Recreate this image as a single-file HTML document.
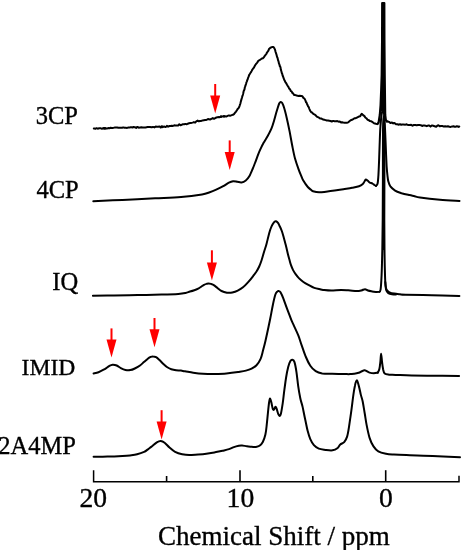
<!DOCTYPE html>
<html><head><meta charset="utf-8"><style>
html,body{margin:0;padding:0;background:#fff;}
body{width:461px;height:550px;overflow:hidden;position:relative;}
svg{position:absolute;left:0;top:0;will-change:transform;}
.t{font-family:"Liberation Serif",serif;fill:#000;stroke:#000;stroke-width:0.35px;}
</style></head><body>
<svg width="461" height="550" viewBox="0 0 461 550">
<g fill="none" stroke="#000" stroke-width="2" stroke-linejoin="round" stroke-linecap="round">
<path d="M93.8,128.5 L94.5,128.5 L95.4,128.8 L96.5,128.2 L97.7,128.7 L99.1,128.3 L100.5,128.2 L101.9,128.8 L103.3,128.3 L104.7,128.2 L105.8,128.4 L107.0,128.5 L108.2,128.1 L109.4,128.3 L110.7,127.8 L111.9,127.9 L113.2,127.9 L114.5,127.6 L115.8,127.5 L117.1,127.5 L118.4,127.8 L119.6,127.8 L120.8,127.8 L122.1,127.8 L123.3,127.4 L124.6,127.8 L125.8,127.8 L127.1,127.9 L128.4,127.5 L129.7,127.6 L131.0,127.1 L132.3,127.5 L133.6,127.0 L134.8,127.2 L136.1,127.9 L137.4,126.9 L138.7,127.7 L140.0,127.5 L141.4,127.3 L142.7,127.5 L144.0,127.5 L145.3,127.6 L146.5,127.2 L147.7,127.1 L148.9,127.1 L150.0,126.9 L151.5,127.2 L153.0,126.9 L154.4,127.4 L155.7,126.6 L157.0,126.7 L158.3,126.8 L159.5,126.4 L160.6,127.5 L161.7,126.2 L163.2,126.7 L164.5,126.6 L165.7,127.1 L166.9,125.9 L168.1,126.7 L169.5,126.0 L170.6,126.0 L171.8,125.7 L173.0,125.9 L174.3,125.3 L175.5,125.4 L176.8,125.4 L178.1,125.6 L179.3,124.2 L180.5,125.2 L181.7,124.8 L182.9,124.2 L184.2,124.3 L185.4,123.9 L186.6,124.3 L187.8,123.7 L189.0,123.3 L190.2,123.1 L191.4,122.9 L192.7,122.6 L193.9,122.1 L195.1,122.7 L196.3,121.3 L197.6,120.6 L198.8,121.3 L200.0,121.0 L201.3,120.9 L202.6,120.4 L203.8,120.2 L205.1,120.0 L206.3,120.0 L207.5,119.3 L208.6,119.1 L210.0,119.5 L211.4,118.8 L212.8,118.1 L214.0,118.8 L215.2,118.1 L216.4,117.5 L217.9,117.1 L219.3,117.3 L220.7,116.8 L222.2,116.5 L223.4,116.3 L224.8,116.3 L226.2,116.6 L227.6,115.9 L228.9,115.4 L230.0,115.8 L231.7,115.1 L232.9,114.8 L234.0,114.1 L235.1,112.7 L236.0,111.6 L236.9,110.3 L237.6,109.0 L238.3,108.4 L239.0,107.4 L239.6,105.8 L240.0,104.6 L240.4,103.5 L240.7,102.1 L241.0,100.9 L241.3,99.9 L241.7,98.5 L242.0,97.5 L242.4,96.0 L242.8,95.1 L243.1,94.0 L243.4,92.5 L243.7,91.0 L244.1,90.3 L244.5,89.4 L244.8,87.5 L245.2,86.4 L245.6,85.1 L246.0,84.1 L246.4,82.4 L246.8,81.6 L247.3,80.0 L247.7,79.2 L248.1,77.8 L248.7,76.4 L249.2,74.9 L249.8,74.0 L250.4,73.0 L251.0,72.2 L251.7,70.9 L252.4,69.5 L253.1,68.6 L253.9,67.6 L254.6,66.2 L255.3,65.0 L256.1,63.9 L256.8,63.1 L257.6,62.1 L258.3,60.8 L259.5,60.2 L260.8,59.3 L261.9,58.5 L262.9,58.2 L263.9,57.3 L264.8,55.8 L265.5,55.0 L266.3,54.0 L267.0,52.5 L267.7,51.6 L268.4,50.7 L269.1,48.8 L269.8,48.4 L270.4,47.7 L272.5,46.9 L273.5,46.9 L274.5,48.6 L274.9,49.2 L275.3,50.7 L275.6,52.0 L276.0,53.2 L276.4,54.3 L276.7,55.5 L277.1,57.1 L277.5,57.8 L277.9,59.5 L278.2,60.7 L278.6,61.7 L279.0,63.7 L279.4,64.3 L279.8,66.2 L280.1,66.3 L280.5,67.4 L280.8,69.4 L281.2,70.7 L281.5,71.7 L281.8,73.0 L282.2,73.8 L282.6,75.5 L283.1,76.7 L283.7,78.3 L284.3,80.0 L284.9,81.0 L285.5,82.3 L286.2,83.2 L286.9,84.5 L287.6,85.7 L288.4,86.9 L289.2,88.6 L290.0,89.2 L290.8,91.1 L291.6,91.4 L292.4,93.0 L293.2,93.4 L294.1,94.9 L295.3,95.1 L296.6,95.5 L297.9,95.9 L299.7,95.8 L301.4,96.0 L302.4,96.3 L303.4,97.9 L304.4,98.5 L304.9,99.4 L305.5,100.6 L306.0,102.3 L306.5,102.5 L307.1,104.3 L307.6,105.1 L308.1,106.5 L308.7,107.0 L309.2,108.5 L309.8,110.0 L310.4,111.1 L311.2,112.2 L312.0,112.4 L312.9,113.5 L313.8,114.2 L314.7,114.6 L315.7,115.3 L316.8,116.7 L317.9,117.2 L319.0,117.7 L320.1,118.6 L321.5,118.6 L322.9,119.5 L324.3,119.8 L325.6,120.1 L326.8,120.5 L328.0,120.6 L329.2,120.8 L330.5,121.0 L331.8,121.5 L333.1,120.9 L334.6,121.3 L336.0,121.2 L337.3,121.1 L338.6,121.7 L339.8,121.5 L341.0,122.4 L342.1,122.2 L343.2,122.5 L344.5,122.7 L345.8,122.8 L347.0,122.7 L348.1,122.4 L349.4,121.3 L350.7,120.2 L352.0,119.8 L353.2,119.1 L354.5,118.2 L355.8,118.2 L356.9,117.6 L358.8,116.6 L360.2,116.3 L361.0,114.6 L361.7,113.8 L363.5,115.5 L364.3,115.9 L365.3,117.5 L366.3,118.2 L367.5,119.7 L368.7,120.1 L370.0,121.1 L371.3,121.3 L372.7,122.2 L374.0,123.2 L375.9,123.7 L377.4,124.0" stroke-width="2.0"/>
<path d="M387.0,121.5 L387.8,121.4 L389.0,121.9 L390.4,123.0 L392.0,122.5 L393.2,123.4 L394.5,122.9 L396.0,124.2 L397.4,124.2 L398.8,124.7 L400.0,124.2 L401.3,124.7 L402.2,124.5 L403.4,124.4 L405.4,124.7 L406.3,124.3 L407.4,124.7 L408.5,125.0 L409.8,124.9 L411.1,124.8 L412.5,125.7 L413.9,125.0 L415.3,124.9 L416.7,125.2 L418.1,125.0 L419.5,125.1 L420.8,125.2 L422.1,126.0 L423.3,125.4 L424.5,125.5 L425.6,125.7 L426.8,126.2 L428.0,125.6 L429.2,125.5 L430.5,126.6 L431.8,125.4 L433.2,125.8 L434.6,126.2 L436.2,126.7 L437.3,125.7 L438.4,125.3 L439.7,126.3 L441.0,126.0 L442.3,126.1 L443.7,126.4 L445.1,126.3 L446.6,126.4 L448.0,126.2 L449.4,126.8 L450.8,126.9 L452.2,126.4 L453.5,126.3 L454.7,126.7 L455.8,126.7 L456.9,126.2 L457.8,126.4 L458.6,126.9 L459.3,126.6" stroke-width="2.0"/>
<ellipse cx="104.5" cy="128.3" rx="2.0" ry="1.4" fill="#000" stroke="none"/>
<ellipse cx="162" cy="127.1" rx="1.6" ry="1.2" fill="#000" stroke="none"/>
<ellipse cx="221" cy="116.7" rx="1.0" ry="1.4" fill="#000" stroke="none"/>
<ellipse cx="224" cy="116.4" rx="1.0" ry="1.4" fill="#000" stroke="none"/>
<path d="M377.4,124.0 L378.6,122.5 L379.8,115.0 L380.6,105.0 L381.2,90.0 L381.7,75.0 L382.1,40.0 L382.2,3.0 L384.3,3.0 L384.4,40.0 L384.7,75.0 L385.0,100.0 L385.2,115.0 L385.8,120.0 L387.0,121.5" stroke-width="2.2"/>
<path d="M382.2,3 L382.1,40 L381.7,75 L381.2,90 L380.6,105 L380.3,111 L385.1,111 L385.0,100 L384.7,75 L384.4,40 L384.3,3 Z" fill="#000" stroke="none"/>
<path d="M93.3,201.2 C98.2,201.0 112.2,200.4 122.5,199.9 C132.8,199.4 145.3,198.8 155.1,198.3 C164.9,197.8 173.3,197.6 181.1,196.9 C188.9,196.2 197.3,195.1 202.0,194.4 C206.7,193.7 206.7,193.3 209.1,192.5 C211.5,191.7 213.8,190.8 216.2,189.7 C218.5,188.6 221.1,187.4 223.2,186.2 C225.3,185.0 227.2,183.5 228.9,182.7 C230.6,181.9 231.7,181.5 233.1,181.3 C234.5,181.2 235.9,181.6 237.3,181.8 C238.7,182.0 240.1,182.6 241.5,182.4 C242.9,182.2 244.5,181.5 245.8,180.5 C247.1,179.5 248.1,178.3 249.3,176.3 C250.5,174.3 251.9,170.7 252.8,168.5 C253.8,166.3 254.0,165.5 255.0,163.0 C256.0,160.5 257.5,156.0 258.6,153.3 C259.7,150.6 260.7,148.6 261.5,146.8 C262.3,145.1 262.6,144.6 263.6,142.8 C264.6,141.0 266.4,138.3 267.7,136.0 C269.0,133.7 270.3,131.3 271.4,128.7 C272.5,126.1 273.2,123.5 274.1,120.5 C275.0,117.5 276.0,113.3 276.9,110.5 C277.8,107.7 278.6,104.9 279.2,103.5 C279.8,102.1 280.2,102.0 280.7,101.9 C281.2,101.8 281.6,102.0 282.2,103.0 C282.8,104.0 283.3,105.2 284.1,107.8 C284.9,110.4 286.0,114.8 286.9,118.7 C287.8,122.6 288.7,126.9 289.6,131.4 C290.5,136.0 291.4,141.4 292.3,146.0 C293.2,150.6 294.0,154.9 295.1,158.8 C296.2,162.8 297.7,166.9 298.7,169.7 C299.7,172.5 300.2,173.6 301.0,175.4 C301.8,177.2 302.2,178.7 303.3,180.6 C304.4,182.5 306.5,185.5 307.8,187.0 C309.1,188.5 310.1,189.1 311.0,189.8 C311.9,190.5 311.6,190.8 313.0,191.2 C314.4,191.6 316.9,192.2 319.1,192.3 C321.3,192.4 323.4,192.0 326.0,191.7 C328.6,191.4 331.8,191.0 334.7,190.6 C337.6,190.2 340.5,189.8 343.4,189.3 C346.3,188.8 349.5,188.3 352.1,187.8 C354.7,187.3 357.3,186.9 359.0,186.3 C360.7,185.7 361.6,185.1 362.5,184.3 C363.4,183.5 363.9,182.3 364.5,181.5 C365.1,180.7 365.2,179.5 365.8,179.4 C366.4,179.3 367.1,180.3 367.8,180.8 C368.5,181.3 369.0,182.2 369.8,182.6 C370.6,183.0 371.6,183.1 372.4,183.5 C373.1,183.9 373.7,184.6 374.3,185.0 C374.9,185.4 375.7,185.8 376.0,185.9"/>
<path d="M376.0,185.9 C376.3,185.5 377.2,185.1 377.6,183.4 C378.0,181.7 378.1,179.5 378.4,175.6 C378.6,171.7 378.9,165.9 379.1,160.0 C379.3,154.1 379.6,145.5 379.8,140.0 C380.0,134.5 380.1,131.0 380.4,127.0 C380.7,123.0 381.0,118.8 381.4,116.0 C381.8,113.2 382.2,110.9 382.6,110.0 C383.0,109.1 383.3,109.0 383.6,110.5 C383.9,112.0 384.2,115.2 384.5,119.0 C384.8,122.8 385.0,127.8 385.2,133.0 C385.4,138.2 385.7,144.5 385.9,150.0 C386.1,155.5 386.4,161.8 386.6,166.0 C386.9,170.2 387.1,172.4 387.4,175.0 C387.7,177.6 387.8,179.4 388.3,181.3 C388.8,183.2 389.5,185.1 390.6,186.7 C391.7,188.2 393.3,189.5 395.1,190.6 C396.9,191.7 399.2,192.4 401.6,193.2 C404.0,193.9 407.3,194.6 409.5,195.1 C411.7,195.6 412.9,195.8 414.7,196.2 C416.4,196.6 415.8,196.9 420.0,197.5 C424.2,198.1 433.4,199.2 440.0,199.8 C446.6,200.4 456.2,200.8 459.5,201.0"/>
<path d="M92.9,295.8 C96.4,295.8 106.4,295.6 113.9,295.5 C121.4,295.4 129.8,295.2 137.7,295.1 C145.6,295.0 154.8,294.8 161.6,294.6 C168.4,294.4 174.3,294.2 178.3,293.9 C182.3,293.6 183.6,293.3 185.5,292.9 C187.4,292.5 188.5,291.9 190.0,291.5 C191.5,291.1 192.9,290.7 194.3,290.2 C195.8,289.7 197.5,288.9 198.7,288.3 C199.9,287.7 200.6,287.1 201.5,286.5 C202.4,285.9 203.2,285.3 204.0,284.9 C204.8,284.5 205.7,284.1 206.5,283.9 C207.3,283.7 207.9,283.5 208.7,283.5 C209.4,283.5 210.2,283.7 211.0,283.9 C211.8,284.1 212.3,284.2 213.4,284.9 C214.5,285.6 216.2,287.0 217.5,288.0 C218.8,289.0 219.9,290.2 221.5,291.0 C223.1,291.8 225.1,292.4 226.9,292.7 C228.7,292.9 230.5,292.9 232.3,292.5 C234.1,292.1 235.9,291.5 237.7,290.6 C239.5,289.7 241.2,288.8 243.0,287.3 C244.8,285.9 246.6,283.9 248.4,281.9 C250.2,279.9 252.4,277.0 253.8,275.2 C255.2,273.4 255.9,272.4 256.8,271.0 C257.7,269.6 258.4,268.2 259.2,266.5 C260.0,264.8 260.7,262.9 261.5,260.5 C262.3,258.1 263.2,254.8 264.0,252.0 C264.8,249.2 265.7,247.0 266.5,244.0 C267.3,241.0 268.3,236.5 269.0,234.0 C269.7,231.5 269.9,230.6 270.5,229.0 C271.1,227.4 271.8,225.7 272.5,224.5 C273.2,223.3 273.9,222.3 274.5,221.8 C275.1,221.3 275.4,221.1 276.0,221.3 C276.6,221.5 277.3,221.9 278.0,222.8 C278.7,223.7 279.3,225.4 280.0,226.8 C280.7,228.2 281.3,229.6 282.0,231.5 C282.7,233.4 283.3,236.1 284.0,238.5 C284.7,240.9 285.3,243.3 286.0,246.0 C286.7,248.7 287.4,252.2 288.0,254.5 C288.6,256.8 289.0,258.2 289.5,260.0 C290.0,261.8 290.4,263.5 291.0,265.2 C291.6,266.9 292.3,268.6 293.1,270.1 C293.9,271.6 294.8,273.0 295.8,274.4 C296.8,275.8 297.8,277.1 299.1,278.4 C300.4,279.7 301.8,280.9 303.4,282.0 C305.0,283.1 307.1,284.2 308.9,285.2 C310.7,286.2 312.3,287.2 314.3,287.9 C316.3,288.6 319.2,289.1 320.8,289.5 C322.4,289.9 322.4,289.8 324.2,290.0 C325.9,290.2 328.5,290.5 331.3,290.5 C334.1,290.5 338.4,290.1 341.2,290.1 C344.0,290.1 345.6,290.2 348.2,290.3 C350.8,290.4 354.5,291.0 356.7,291.0 C358.9,291.0 360.1,290.7 361.5,290.4 C362.9,290.1 363.9,289.2 365.0,289.2 C366.1,289.2 366.8,290.1 368.0,290.5 C369.2,290.9 370.8,291.2 372.2,291.5 C373.6,291.8 375.2,291.9 376.4,292.0 C377.6,292.1 378.9,291.8 379.4,291.8"/>
<path d="M379.4,291.8 C379.6,291.4 380.2,292.2 380.6,289.4 C381.0,286.6 381.3,281.6 381.6,275.0 C381.9,268.4 382.1,259.2 382.3,250.0 C382.5,240.8 382.6,231.7 382.7,220.0 C382.8,208.3 382.8,195.0 382.9,180.0 C382.9,165.0 382.9,140.7 383.0,130.0 C383.1,119.3 383.4,116.0 383.6,116.0 C383.8,116.0 384.2,119.3 384.3,130.0 C384.4,140.7 384.4,165.0 384.4,180.0 C384.4,195.0 384.3,208.3 384.3,220.0 C384.3,231.7 384.4,240.8 384.5,250.0 C384.6,259.2 384.8,269.0 385.0,275.0 C385.2,281.0 385.3,283.4 385.6,286.0 C385.9,288.6 386.4,289.2 387.0,290.3 C387.6,291.4 388.3,291.8 389.5,292.3 C390.7,292.9 392.4,293.3 394.2,293.6 C395.9,293.9 398.1,294.1 400.0,294.3 C401.9,294.5 400.3,294.5 405.6,294.7 C410.9,294.9 422.9,295.1 431.9,295.3 C440.9,295.5 454.8,295.9 459.4,296.0"/>
<path d="M382.3,250 L382.7,220 L382.9,180 L383.0,130 L383.6,116 L384.3,130 L384.4,180 L384.3,220 L384.5,250 Z" fill="#000" stroke="none"/>
<path d="M385.3,282.0 C385.4,283.3 385.7,288.1 386.2,290.0 C386.7,291.9 387.3,292.4 388.3,293.1 C389.3,293.8 390.7,294.1 392.0,294.3 C393.3,294.6 395.3,294.6 396.0,294.6"/>
<path d="M93.6,373.5 C94.4,373.3 96.7,373.0 98.5,372.3 C100.3,371.6 102.6,370.3 104.4,369.3 C106.2,368.3 107.7,366.9 109.1,366.1 C110.5,365.3 111.3,364.8 112.6,364.7 C113.9,364.6 115.3,364.9 116.7,365.5 C118.1,366.1 119.3,367.4 120.8,368.1 C122.3,368.9 123.9,369.7 125.5,370.0 C127.1,370.3 128.6,370.4 130.2,370.1 C131.8,369.9 133.2,369.3 134.8,368.5 C136.4,367.7 138.5,366.6 140.0,365.5 C141.5,364.4 142.6,363.2 143.9,362.1 C145.2,361.0 146.7,359.6 147.8,358.7 C148.9,357.8 149.8,357.3 150.7,356.9 C151.6,356.5 152.3,356.3 153.2,356.4 C154.1,356.4 155.0,356.6 156.1,357.2 C157.2,357.8 158.3,359.0 159.5,360.1 C160.7,361.2 162.1,362.8 163.4,364.0 C164.7,365.2 166.0,366.4 167.3,367.3 C168.6,368.2 169.8,368.7 171.3,369.2 C172.8,369.7 174.5,370.0 176.1,370.2 C177.7,370.4 179.5,370.4 181.0,370.6 C182.5,370.8 183.0,371.0 185.0,371.3 C187.0,371.6 190.2,372.3 193.2,372.7 C196.2,373.1 199.4,373.5 203.0,373.7 C206.6,373.9 210.8,373.9 214.7,373.9 C218.6,373.8 222.5,373.7 226.4,373.4 C230.3,373.1 234.8,372.5 238.1,372.0 C241.3,371.5 243.7,371.2 245.9,370.6 C248.2,370.0 249.8,369.5 251.6,368.6 C253.4,367.7 255.0,366.9 256.5,365.3 C258.0,363.7 259.5,361.2 260.6,358.8 C261.7,356.4 262.2,353.6 263.0,350.6 C263.8,347.6 264.7,344.2 265.5,340.7 C266.3,337.1 267.2,333.1 268.0,329.3 C268.8,325.5 269.6,321.9 270.4,317.8 C271.2,313.7 272.1,308.5 272.9,304.7 C273.7,300.9 274.6,297.0 275.3,294.8 C276.0,292.6 276.7,292.2 277.3,291.6 C277.9,291.0 278.3,291.0 278.8,291.1 C279.3,291.2 279.8,291.1 280.5,292.3 C281.2,293.5 282.2,295.5 283.3,298.4 C284.4,301.3 286.0,306.0 287.4,309.6 C288.8,313.2 290.3,317.5 291.4,320.2 C292.5,322.9 292.9,323.3 294.0,325.8 C295.1,328.3 297.0,332.1 298.3,335.3 C299.6,338.5 300.3,341.5 301.6,345.1 C302.9,348.7 304.4,353.6 305.9,357.0 C307.3,360.4 308.7,363.3 310.3,365.7 C311.9,368.1 313.7,369.8 315.7,371.1 C317.7,372.4 319.4,372.9 322.2,373.4 C324.9,373.8 328.5,373.7 332.2,373.8 C335.9,373.9 341.5,373.9 344.5,374.0 C347.5,374.1 348.4,374.2 350.0,374.1 C351.6,374.1 352.9,373.9 354.3,373.7 C355.8,373.5 357.4,373.2 358.7,372.8 C360.0,372.4 360.9,371.6 361.9,371.2 C362.9,370.8 363.9,370.4 364.6,370.3 C365.3,370.2 365.5,370.5 366.3,370.9 C367.1,371.3 368.2,372.2 369.5,372.6 C370.8,373.0 372.5,373.3 373.9,373.3 C375.3,373.3 377.1,372.8 377.7,372.7"/>
<path d="M377.7,372.7 C378.0,372.1 378.9,371.1 379.3,369.3 C379.8,367.5 380.1,364.3 380.4,361.7 C380.7,359.1 380.8,353.8 381.1,353.8 C381.4,353.8 381.7,359.1 382.0,361.7 C382.3,364.3 382.7,367.3 383.1,369.3 C383.6,371.3 383.7,372.7 384.7,373.6 C385.7,374.5 387.2,374.5 389.0,374.7 C390.8,374.9 391.8,374.8 395.6,374.9 C399.4,375.0 403.9,375.4 411.7,375.5 C419.5,375.6 434.4,375.7 442.3,375.8 C450.2,375.9 456.3,376.1 459.1,376.1"/>
<path d="M93.6,456.8 C95.9,456.8 102.6,456.7 107.4,456.6 C112.2,456.5 118.7,456.2 122.5,456.0 C126.3,455.8 127.6,455.7 130.0,455.4 C132.4,455.1 134.8,454.9 137.1,454.3 C139.4,453.7 142.3,452.7 144.1,451.9 C145.9,451.1 146.8,450.1 148.0,449.3 C149.2,448.5 149.7,448.0 151.2,446.9 C152.7,445.8 155.2,443.4 156.8,442.4 C158.4,441.4 159.4,440.9 160.7,441.0 C162.0,441.1 163.1,441.6 164.6,442.7 C166.1,443.8 167.8,446.1 169.5,447.6 C171.2,449.1 173.0,450.8 175.1,451.9 C177.2,453.0 179.8,453.8 182.2,454.3 C184.5,454.8 186.5,455.1 189.2,455.1 C191.8,455.1 195.2,454.7 198.1,454.5 C200.9,454.3 203.6,454.1 206.3,453.7 C209.0,453.3 211.7,452.9 214.4,452.4 C217.1,451.9 220.1,451.4 222.5,450.8 C224.9,450.2 227.1,449.7 229.0,449.1 C230.9,448.5 232.3,447.7 233.9,447.1 C235.5,446.5 237.4,446.0 238.8,445.7 C240.2,445.4 240.8,445.4 242.1,445.5 C243.4,445.6 245.3,446.0 246.9,446.2 C248.5,446.4 250.3,446.7 251.8,446.8 C253.3,446.9 254.6,447.2 255.9,447.0 C257.2,446.8 258.4,446.6 259.5,445.8 C260.6,445.0 261.8,443.9 262.8,442.0 C263.8,440.1 264.7,437.5 265.4,434.5 C266.1,431.5 266.4,427.9 266.8,424.2 C267.2,420.5 267.6,415.9 268.0,412.1 C268.4,408.4 268.8,403.9 269.2,401.7 C269.6,399.4 269.8,398.5 270.2,398.6 C270.6,398.8 271.0,400.9 271.4,402.6 C271.8,404.3 272.4,407.8 272.8,409.0 C273.2,410.2 273.6,410.0 274.0,409.6 C274.4,409.2 275.0,407.1 275.4,406.9 C275.8,406.7 276.1,407.4 276.6,408.6 C277.1,409.8 277.8,413.0 278.3,414.2 C278.8,415.4 279.3,416.1 279.7,416.0 C280.1,415.9 280.4,415.9 280.9,413.8 C281.4,411.7 282.1,407.4 282.7,403.4 C283.3,399.4 283.8,393.9 284.4,389.6 C285.0,385.3 285.5,381.2 286.1,377.5 C286.7,373.8 287.5,369.8 288.2,367.1 C288.9,364.4 289.7,362.3 290.4,361.1 C291.1,359.9 291.5,359.7 292.2,359.8 C292.9,359.9 293.7,359.8 294.4,361.9 C295.1,364.0 295.9,368.3 296.5,372.3 C297.1,376.3 297.6,381.8 298.2,386.1 C298.8,390.4 299.6,394.7 300.3,398.2 C301.0,401.7 301.8,403.4 302.6,406.9 C303.4,410.4 304.2,415.0 305.1,419.0 C306.0,423.0 306.8,427.7 307.7,431.1 C308.6,434.5 309.3,436.9 310.3,439.2 C311.3,441.5 312.5,443.6 313.9,445.2 C315.3,446.8 316.9,447.9 318.8,448.7 C320.8,449.5 323.3,449.6 325.6,449.9 C327.9,450.2 330.6,450.6 332.5,450.3 C334.4,450.0 336.0,449.3 337.3,448.3 C338.6,447.3 339.2,445.4 340.3,444.4 C341.4,443.4 343.1,443.4 344.2,442.1 C345.3,440.8 346.3,439.1 347.1,436.6 C347.9,434.1 348.4,430.8 349.0,426.9 C349.6,423.0 350.3,418.1 351.0,413.2 C351.7,408.3 352.4,402.2 353.0,397.6 C353.6,393.1 354.2,388.8 354.9,385.9 C355.5,383.0 356.2,380.3 356.9,380.3 C357.5,380.3 358.1,383.5 358.8,385.9 C359.5,388.3 360.2,392.0 360.8,394.6 C361.4,397.2 362.1,398.4 362.7,401.5 C363.3,404.6 364.0,409.3 364.7,413.2 C365.4,417.1 365.8,420.8 366.6,424.9 C367.4,429.0 368.4,434.0 369.5,437.6 C370.6,441.2 372.0,444.1 373.5,446.4 C375.0,448.7 376.2,450.1 378.3,451.3 C380.4,452.5 383.5,453.2 386.1,453.8 C388.7,454.4 390.5,454.4 393.9,454.6 C397.3,454.8 399.9,454.9 406.4,455.1 C412.9,455.3 423.8,455.6 432.7,456.0 C441.6,456.4 455.4,457.0 460.0,457.2"/>
</g>
<g stroke="#000" fill="none" stroke-linecap="butt">
<path d="M93.6,470.2 L93.6,481.8 L459,481.8 L459,475.8" stroke-width="1.5" fill="none" stroke-linejoin="miter"/><line x1="166.6" y1="476" x2="166.6" y2="481" stroke-width="1.6"/><line x1="240" y1="470.2" x2="240" y2="481" stroke-width="1.6"/><line x1="312.8" y1="476" x2="312.8" y2="481" stroke-width="1.6"/><line x1="385.7" y1="470.2" x2="385.7" y2="481" stroke-width="1.6"/>
</g>
<line x1="215.2" y1="84.0" x2="215.2" y2="96.5" stroke="#f00" stroke-width="2.0"/><polygon points="210.2,95.5 220.2,95.5 215.2,113.5" fill="#f00"/>
<line x1="229.7" y1="140.4" x2="229.7" y2="153.0" stroke="#f00" stroke-width="2.0"/><polygon points="224.7,152.0 234.7,152.0 229.7,170.0" fill="#f00"/>
<line x1="211.9" y1="250.3" x2="211.9" y2="263.4" stroke="#f00" stroke-width="2.0"/><polygon points="206.9,262.4 216.9,262.4 211.9,280.4" fill="#f00"/>
<line x1="111.5" y1="328.4" x2="111.5" y2="340.6" stroke="#f00" stroke-width="2.0"/><polygon points="106.5,339.6 116.5,339.6 111.5,357.6" fill="#f00"/>
<line x1="154.5" y1="318.0" x2="154.5" y2="330.3" stroke="#f00" stroke-width="2.0"/><polygon points="149.5,329.3 159.5,329.3 154.5,347.3" fill="#f00"/>
<line x1="161.6" y1="410.2" x2="161.6" y2="422.5" stroke="#f00" stroke-width="2.0"/><polygon points="156.6,421.5 166.6,421.5 161.6,439.5" fill="#f00"/>
<g class="t" font-size="24.5">
<text x="78" y="124" text-anchor="end">3CP</text>
<text x="78.6" y="198.4" text-anchor="end">4CP</text>
<text x="78.2" y="290.4" text-anchor="end">IQ</text>
<text x="75.3" y="375.3" text-anchor="end" font-size="23.6">IMID</text>
<text x="75.8" y="454.4" text-anchor="end">2A4MP</text>
</g>
<g class="t" font-size="27.6" text-anchor="middle">
<text x="93.3" y="506.8">20</text>
<text x="240.4" y="506.8">10</text>
<text x="386" y="506.8">0</text>
</g>
<text class="t" font-size="27" x="158" y="545">Chemical Shift / ppm</text>
</svg>
</body></html>
